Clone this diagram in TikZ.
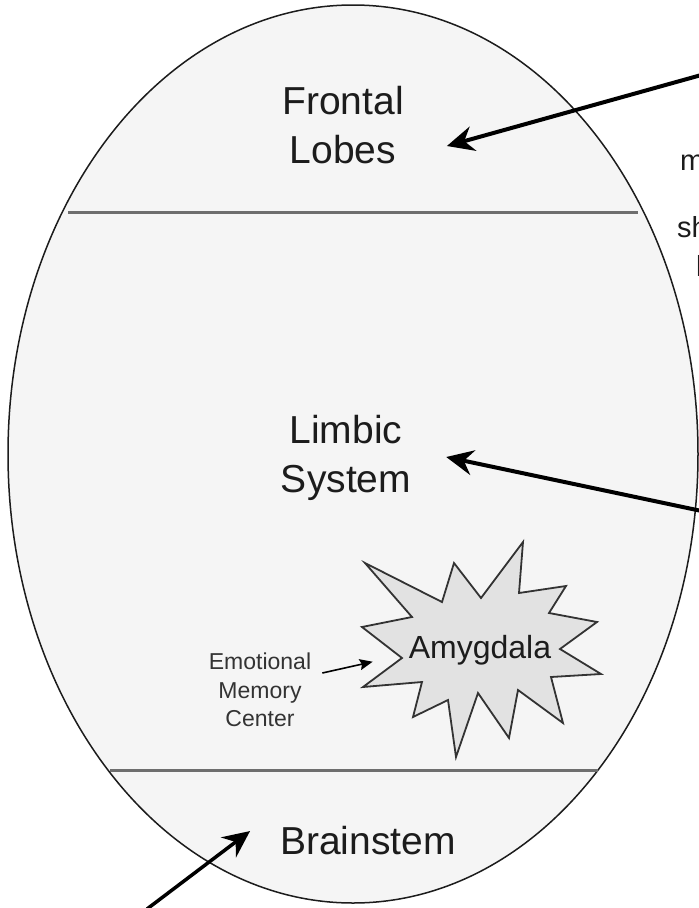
\documentclass[tikz,border=0pt]{standalone}
\usepackage{fontspec}
\setmainfont{Liberation Sans}
\usetikzlibrary{arrows.meta}
\definecolor{brainfill}{HTML}{F5F5F5}
\definecolor{burstfill}{HTML}{E2E2E2}
\definecolor{divider}{HTML}{6E6E6E}
\definecolor{ink}{HTML}{1C1C1C}

\begin{document}
\begin{tikzpicture}[x=1pt,y=-1pt,
    region/.style={text=ink,inner sep=0pt,align=center,font=\fontsize{39}{48.5}\selectfont},
    bigarrow/.style={black,line width=4pt,-{Stealth[length=27pt,width=25pt,inset=9pt]}},
    smallarrow/.style={black,line width=1.6pt,-{Stealth[length=13pt,width=11pt,inset=2pt]}}]
    \fill[white] (0,0) rectangle (699,908);
    \useasboundingbox (0,0) rectangle (699,908);
    \filldraw[fill=brainfill,draw=ink,line width=1.5pt] (353,454) ellipse (345pt and 449pt);
    \draw[divider,line width=3pt] (68,212) -- (638,212);
    \draw[divider,line width=3pt] (110,770) -- (598,770);
    \filldraw[fill=burstfill,draw=black!80,line width=1.8pt] (365,563) -- (442,602) -- (454,563) -- (481,598) -- (523,542) -- (519,593) -- (566,586) -- (549,613) -- (597,622) -- (560,649) -- (601,674) -- (551,677) -- (563,723) -- (518,690) -- (509,738) -- (478,693) -- (456,757) -- (448,700) -- (413,717) -- (422,682) -- (363,687) -- (402,658) -- (362,627) -- (412,617) -- cycle;
    \node[region] (frontal) at (343,125) {Frontal\\Lobes};
    \node[region] (limbic) at (346,458) {Limbic\\System};
    \node[region,anchor=base] (brainstem) at (368,854) {Brainstem};
    \node[region,anchor=base,font=\fontsize{32}{38}\selectfont] (amygdala) at (480,658) {Amygdala};
    \node[region,text=ink!90,font=\fontsize{23}{28.5}\selectfont] (memory) at (260,690) {Emotional\\Memory\\Center};
    \node[region,anchor=base west,font=\fontsize{29}{34}\selectfont] (cutm) at (680,170) {m};
    \node[region,anchor=base west,font=\fontsize{29}{34}\selectfont] (cutsh) at (677,237) {sh};
    \node[region,anchor=base west,font=\fontsize{29}{34}\selectfont] (cutl) at (696,276) {l};
    \coordinate (frontalin) at (730,67);
    \coordinate (limbicin) at (730,517);
    \coordinate (brainstemin) at (147,909);
    \draw[bigarrow] (frontalin) -- ([shift={(43,21)}]frontal.east);
    \draw[bigarrow] (limbicin) -- ([shift={(35,-1)}]limbic.east);
    \draw[bigarrow,line width=3.5pt] (brainstemin) -- ([shift={(-30,-9)}]brainstem.west);
    \draw[smallarrow] ([shift={(11,-17)}]memory.east) -- ([shift={(-36,12)}]amygdala.west);
\end{tikzpicture}
\end{document}
